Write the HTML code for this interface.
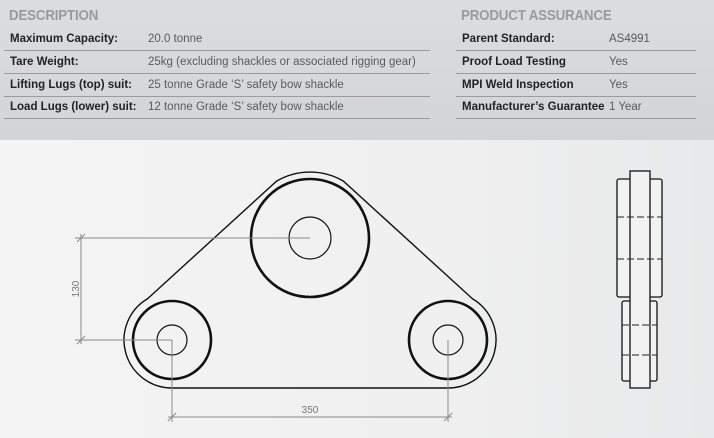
<!DOCTYPE html>
<html><head><meta charset="utf-8"><style>
body{margin:0;width:714px;height:438px;overflow:hidden;background:#f2f2f2;font-family:"Liberation Sans",sans-serif;position:relative}
.hdr{position:absolute;left:0;top:0;width:714px;height:140px;background:linear-gradient(#dcdddf,#d3d4d6)}
.bot{position:absolute;left:0;top:140px;width:714px;height:298px;background:linear-gradient(90deg,#f4f4f4,#f0f0f0 60%,#e8e9ea)}
h2{position:absolute;margin:0;font-size:14.5px;font-weight:bold;color:#9a9a9a;letter-spacing:-0.2px;transform:scaleX(0.92);transform-origin:left}
.row{position:absolute;height:22px;border-bottom:1px solid #9b9b9b;font-size:11.5px;line-height:22px}
.row b{position:absolute;left:6px;color:#222}
.row span{position:absolute;color:#5a5a5a}
</style></head><body>
<div class="hdr"></div><div class="bot"></div>
<h2 style="left:9px;top:8px">DESCRIPTION</h2>
<h2 style="left:461px;top:8px">PRODUCT ASSURANCE</h2>
<div class="row" style="left:4px;top:28px;width:426px"><b>Maximum Capacity:</b><span style="left:144px">20.0 tonne</span></div>
<div class="row" style="left:4px;top:51px;width:426px"><b>Tare Weight:</b><span style="left:144px">25kg (excluding shackles or associated rigging gear)</span></div>
<div class="row" style="left:4px;top:74px;width:426px"><b>Lifting Lugs (top) suit:</b><span style="left:144px">25 tonne Grade ‘S’ safety bow shackle</span></div>
<div class="row" style="left:4px;top:96px;width:426px"><b>Load Lugs (lower) suit:</b><span style="left:144px">12 tonne Grade ‘S’ safety bow shackle</span></div>
<div class="row" style="left:456px;top:28px;width:240px"><b>Parent Standard:</b><span style="left:153px">AS4991</span></div>
<div class="row" style="left:456px;top:51px;width:240px"><b>Proof Load Testing</b><span style="left:153px">Yes</span></div>
<div class="row" style="left:456px;top:74px;width:240px"><b>MPI Weld Inspection</b><span style="left:153px">Yes</span></div>
<div class="row" style="left:456px;top:96px;width:240px"><b>Manufacturer’s Guarantee</b><span style="left:153px">1 Year</span></div>
<svg style="position:absolute;left:0;top:0" width="714" height="438">
<g fill="none" stroke="#111">
<path stroke-width="1.4" d="M147.7,298.6 L276.6,181.1 A66 66 0 0 1 343.4,181.1 L472.3,298.6 A48 48 0 0 1 448,388 L172,388 A48 48 0 0 1 147.7,298.6 Z"/>
<circle cx="310" cy="238" r="59" stroke-width="2.6"/>
<circle cx="310" cy="238" r="21" stroke-width="1.2"/>
<circle cx="172" cy="340" r="39" stroke-width="2.6"/>
<circle cx="172" cy="340" r="15" stroke-width="1.2"/>
<circle cx="448" cy="340" r="39" stroke-width="2.6"/>
<circle cx="448" cy="340" r="15" stroke-width="1.2"/>
</g>
<g stroke="#8a8a8a" stroke-width="1" fill="none">
<path d="M75,238H310M75,340H172M81,234V344M77,242L85,234M77,344L85,336"/>
<path d="M172,340V422M448,340V422M168,417H452M168,421L176,413M444,421L452,413"/>
</g>
<text x="310" y="413" font-size="10" fill="#777" text-anchor="middle" font-family="Liberation Sans Narrow,Liberation Sans,sans-serif">350</text>
<text transform="translate(79,289) rotate(-90)" font-size="10" fill="#777" text-anchor="middle" font-family="Liberation Sans Narrow,Liberation Sans,sans-serif">130</text>
<g fill="#f2f2f2" stroke="#111" stroke-width="1.3">
<rect x="617" y="179" width="45" height="118" rx="2"/>
<rect x="622" y="301" width="35" height="80" rx="2"/>
<rect x="630" y="171" width="20" height="217"/>
</g>
<g stroke="#222" stroke-width="1" stroke-dasharray="7,3">
<path d="M617,217H662M617,259H662M622,325H657M622,355H657"/>
</g>
</svg>
</body></html>
